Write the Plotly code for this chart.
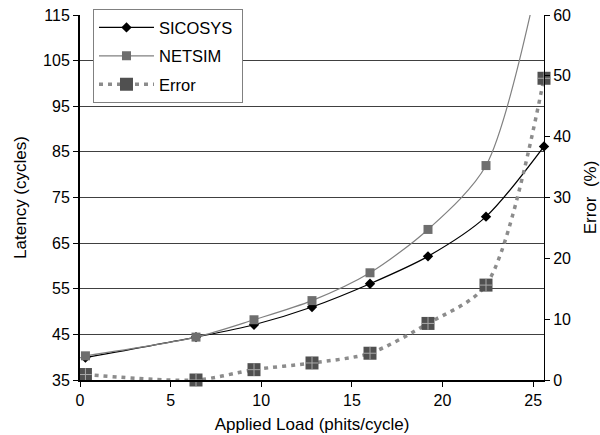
import plotly.graph_objects as go

load = [0.3, 6.4, 9.6, 12.8, 16.0, 19.2, 22.4, 25.6]
sicosys = [39.9, 44.4, 47.1, 51.0, 56.1, 62.1, 70.8, 86.2]
netsim = [40.3, 44.4, 48.2, 52.4, 58.5, 68.0, 82.0, 129.0]
error = [0.9, 0.0, 1.7, 2.8, 4.4, 9.3, 15.6, 49.6]

left_ticks = [35, 45, 55, 65, 75, 85, 95, 105, 115]
right_ticks = [0, 10, 20, 30, 40, 50, 60]
x_ticks = [0, 5, 10, 15, 20, 25]

FONT = "Liberation Sans, Arial, sans-serif"
PAD = "\u00a0"

fig = go.Figure()

fig.add_trace(go.Scatter(
    x=load, y=sicosys, name="SICOSYS" + PAD, mode="lines+markers",
    line=dict(color="black", width=1.2, shape="spline", smoothing=0.8),
    marker=dict(symbol="diamond", size=8, color="black"),
    cliponaxis=False, legendgroup="a",
))
fig.add_trace(go.Scatter(
    x=load, y=netsim, name="NETSIM", mode="lines+markers",
    line=dict(color="#808080", width=1.2, shape="spline", smoothing=0.8),
    marker=dict(symbol="square", size=9, color="#6e6e6e"),
    cliponaxis=True, legendgroup="b",
))
fig.add_trace(go.Scatter(
    x=load, y=error, name="Error", mode="lines+markers", yaxis="y2",
    line=dict(color="#8c8c8c", width=3.5, dash="4px,5px", shape="spline", smoothing=0.8),
    marker=dict(symbol="square", size=13, color="#505050"),
    cliponaxis=False, legendgroup="c",
))
fig.add_trace(go.Scatter(
    x=load, y=error, mode="markers", yaxis="y2", showlegend=False,
    marker=dict(symbol="cross-thin", size=9, line=dict(color="#a8a8a8", width=1)),
    cliponaxis=False, hoverinfo="skip", legendgroup="c",
))

fig.update_layout(
    width=600, height=435,
    margin=dict(l=80, r=56, t=15, b=55, autoexpand=False),
    paper_bgcolor="white", plot_bgcolor="white",
    font=dict(family=FONT, size=16, color="black"),
    showlegend=True,
    legend=dict(
        x=0.028, y=1.016, xanchor="left", yanchor="top",
        bgcolor="white", bordercolor="#808080", borderwidth=1,
        tracegroupgap=4, itemwidth=55,
        font=dict(family=FONT, size=16.5, color="black"),
    ),
    xaxis=dict(
        range=[0, 25.6], tickvals=x_ticks, showgrid=False, automargin=False,
        showline=True, linecolor="black", linewidth=2,
        ticks="outside", ticklen=5, tickcolor="black", tickwidth=1,
        zeroline=False,
        title=dict(text="Applied Load (phits/cycle)", standoff=10,
                   font=dict(family=FONT, size=17)),
    ),
    yaxis=dict(
        range=[35, 115], tickvals=left_ticks, automargin=False,
        showgrid=True, gridcolor="#404040", gridwidth=1,
        showline=True, linecolor="black", linewidth=2,
        ticks="outside", ticklen=5, tickcolor="black", tickwidth=1,
        zeroline=False,
        title=dict(text="Latency (cycles)", standoff=12,
                   font=dict(family=FONT, size=17)),
    ),
    yaxis2=dict(
        range=[0, 60], tickvals=right_ticks, overlaying="y", side="right",
        automargin=False,
        showgrid=False, showline=True, linecolor="black", linewidth=1,
        ticks="outside", ticklen=5, tickcolor="black", tickwidth=1,
        zeroline=False,
        title=dict(text="Error  (%)", standoff=14,
                   font=dict(family=FONT, size=17)),
    ),
)

fig.write_html("out.html")
